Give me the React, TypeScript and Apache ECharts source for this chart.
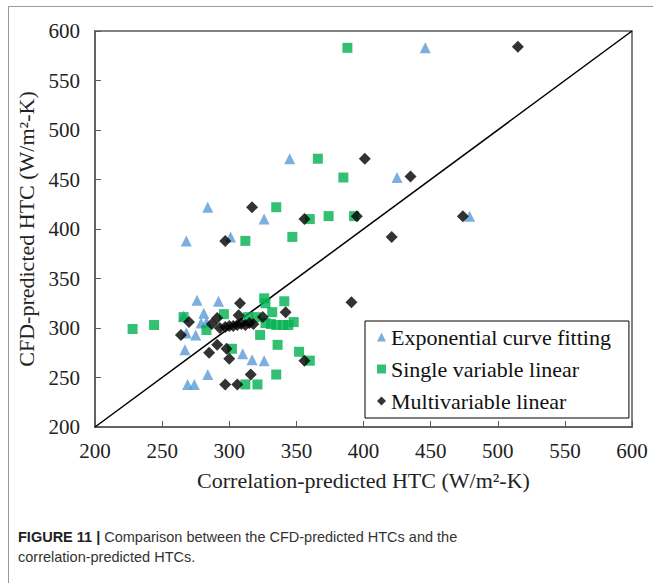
import React, { useEffect, useRef } from "react";
import * as echarts from "echarts";

const seriesNames = ["Exponential curve fitting", "Single variable linear", "Multivariable linear"];
const axisTicks = [200, 250, 300, 350, 400, 450, 500, 550, 600];

const exponentialData: [number, number][] = [
  [446, 583], [345, 471], [425, 452], [284, 422], [326, 410], [479, 413],
  [301, 392], [268, 388], [276, 328], [292, 327], [281, 315], [266, 312],
  [279, 305], [283, 306], [268, 295], [275, 293], [267, 278], [310, 274],
  [317, 268], [326, 267], [284, 253], [269, 243], [274, 243],
];

const singleLinearData: [number, number][] = [
  [388, 583], [366, 471], [385, 452], [335, 422], [360, 410], [374, 413],
  [393, 413], [312, 388], [347, 392], [228, 299], [244, 303], [266, 311],
  [283, 298], [296, 314], [326, 330], [327, 325], [341, 327], [314, 311],
  [320, 311], [332, 316], [327, 305], [331, 304], [335, 303], [340, 303],
  [344, 303], [348, 306], [323, 293], [336, 283], [302, 279], [352, 276],
  [360, 267], [335, 253], [312, 243], [321, 243],
];

const multiLinearData: [number, number][] = [
  [515, 584], [401, 471], [435, 453], [317, 422], [356, 410], [395, 413],
  [474, 413], [297, 388], [421, 392], [391, 326], [308, 325], [342, 316],
  [325, 311], [270, 306], [264, 293], [291, 310], [287, 304], [293, 300],
  [297, 301], [300, 302], [303, 302], [306, 303], [309, 304], [312, 303],
  [315, 305], [318, 304], [307, 313], [291, 283], [298, 279], [285, 275],
  [300, 269], [316, 253], [297, 243], [306, 243], [356, 267],
];

const parityLine: [number, number][] = [[200, 200], [600, 600]];

const captionLine1Bold = "FIGURE 11 | ";
const captionLine1 = "Comparison between the CFD-predicted HTCs and the";
const captionLine2 = "correlation-predicted HTCs.";

const xName = "Correlation-predicted HTC (W/m²-K)";
const yName = "CFD-predicted HTC (W/m²-K)";

const serif = "'Liberation Serif', 'Times New Roman', serif";
const sans = "'Liberation Sans', Arial, sans-serif";
const axisColor = "#595959";

export default function App() {
  const ref = useRef<HTMLDivElement>(null);
  useEffect(() => {
    if (!ref.current) return;
    const chart = echarts.init(ref.current, undefined, { renderer: "svg" });
    const axisCommon = {
      type: "value" as const,
      min: axisTicks[0],
      max: axisTicks[axisTicks.length - 1],
      interval: 50,
      nameLocation: "middle" as const,
      nameTextStyle: { fontFamily: serif, fontSize: 22, color: "#222" },
      axisLine: { show: true, onZero: false, lineStyle: { color: axisColor, width: 1.5 } },
      axisTick: { show: true, inside: true, length: 6, lineStyle: { color: axisColor, width: 1 } },
      axisLabel: { fontFamily: serif, fontSize: 21, color: "#222" },
      splitLine: { show: false },
    };
    chart.setOption({
      animation: false,
      backgroundColor: "#fff",
      grid: { left: 95, right: 21, top: 31, bottom: 156, show: true, borderColor: axisColor, borderWidth: 1.5 },
      xAxis: { ...axisCommon, name: xName, nameGap: 42, axisLabel: { ...axisCommon.axisLabel, margin: 13 } },
      yAxis: { ...axisCommon, name: yName, nameGap: 55, axisLabel: { ...axisCommon.axisLabel, margin: 15 } },
      legend: {
        data: [
          { name: seriesNames[0], icon: "triangle" },
          { name: seriesNames[1], icon: "rect" },
          { name: seriesNames[2], icon: "diamond" },
        ],
        orient: "vertical",
        left: 365,
        top: 321,
        itemWidth: 9,
        itemHeight: 9,
        itemGap: 10,
        padding: [5, 18, 6, 12],
        borderColor: "#000",
        borderWidth: 1,
        textStyle: { fontFamily: serif, fontSize: 22, color: "#111" },
      },
      series: [
        {
          name: "parity",
          type: "line",
          data: parityLine,
          symbol: "none",
          lineStyle: { color: "#000", width: 1.5 },
          z: 1,
        },
        {
          name: seriesNames[0],
          type: "scatter",
          data: exponentialData,
          symbol: "triangle",
          symbolSize: 11,
          itemStyle: { color: "#5b9bd5" },
          z: 2,
        },
        {
          name: seriesNames[1],
          type: "scatter",
          data: singleLinearData,
          symbol: "rect",
          symbolSize: 10,
          itemStyle: { color: "#00b050" },
          z: 3,
        },
        {
          name: seriesNames[2],
          type: "scatter",
          data: multiLinearData,
          symbol: "diamond",
          symbolSize: 12,
          itemStyle: { color: "#000" },
          z: 4,
        },
      ],
      graphic: [
        { type: "line", shape: { x1: 8, y1: 6.5, x2: 653, y2: 6.5 }, style: { stroke: "#9a9a9a", lineWidth: 1 } },
        { type: "line", shape: { x1: 8.5, y1: 6, x2: 8.5, y2: 583 }, style: { stroke: "#9a9a9a", lineWidth: 1 } },
        {
          type: "text",
          left: 18,
          top: 529,
          style: {
            text: "{b|" + captionLine1Bold + "}{n|" + captionLine1 + "}",
            rich: {
              b: { fontFamily: sans, fontSize: 14.5, fontWeight: "bold", fill: "#222" },
              n: { fontFamily: sans, fontSize: 14.5, fill: "#333" },
            },
          },
        },
        {
          type: "text",
          left: 18,
          top: 549,
          style: { text: captionLine2, fontFamily: sans, fontSize: 14.5, fill: "#333" },
        },
      ],
    });
    return () => chart.dispose();
  }, []);
  return (
    <div
      ref={ref}
      style={{ position: "fixed", left: 0, top: 0, width: 653, height: 583, background: "#fff" }}
    />
  );
}
